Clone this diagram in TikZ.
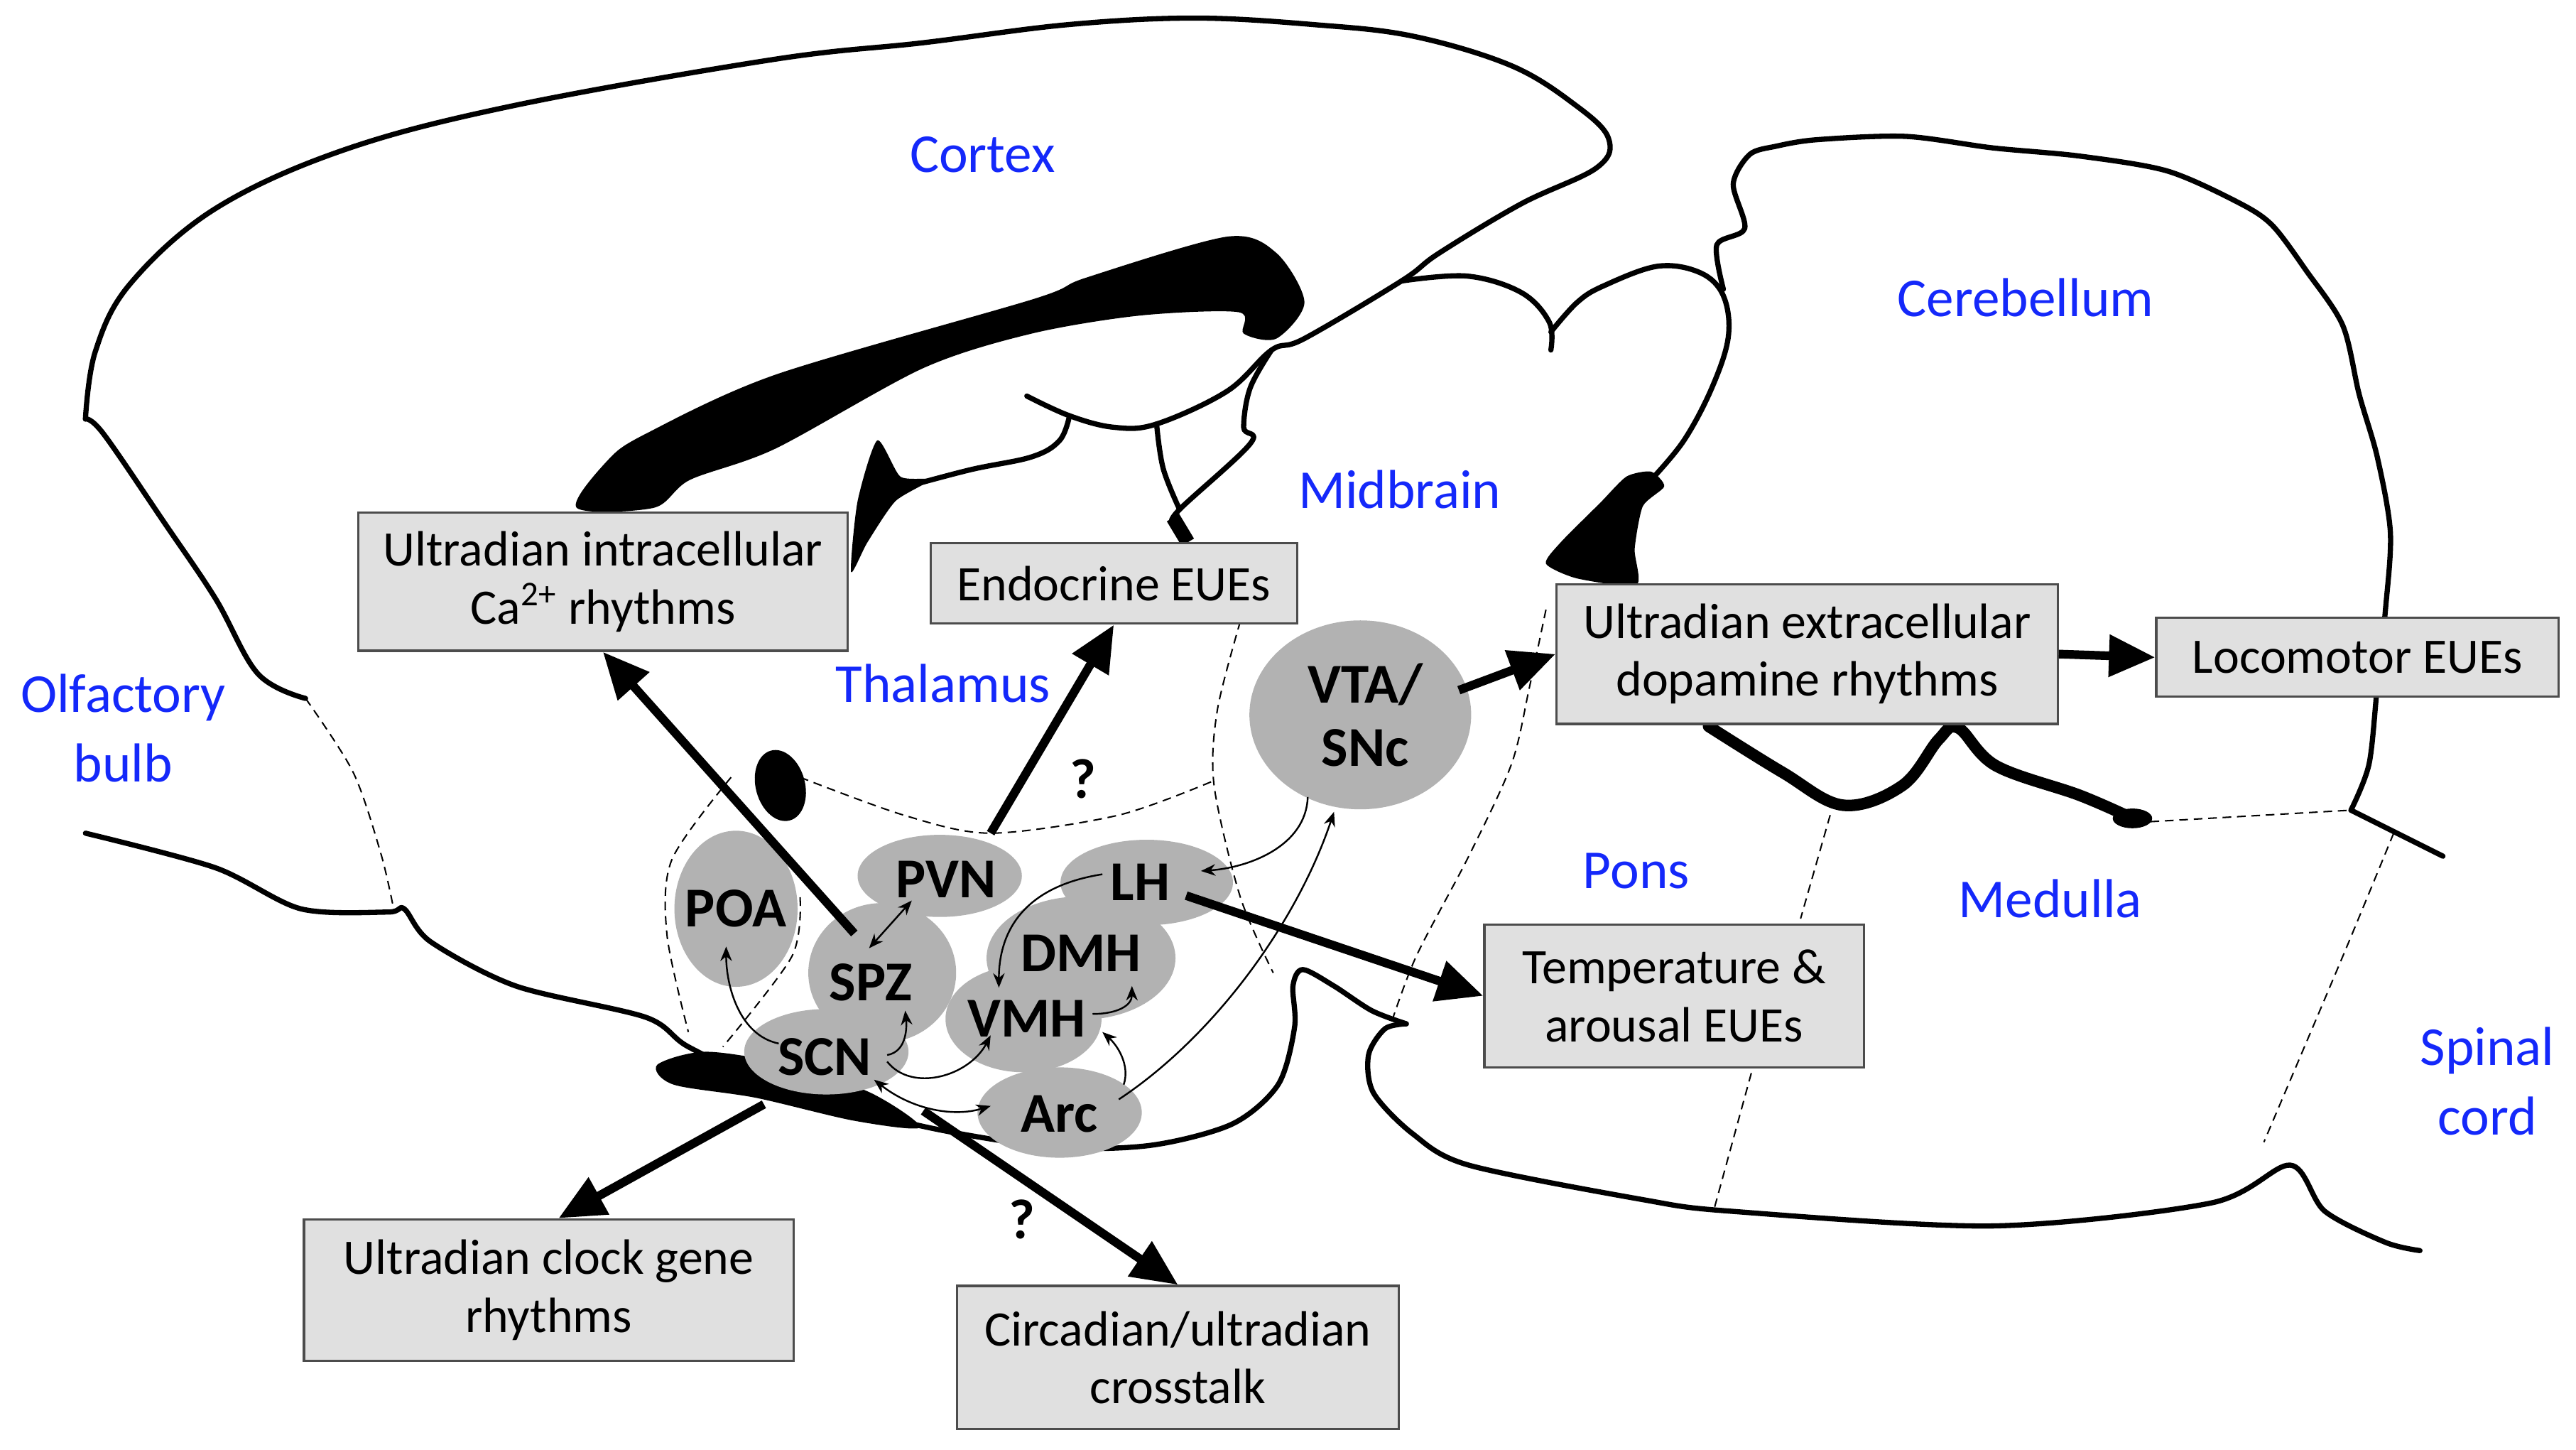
\documentclass[tikz,border=0pt]{standalone}
\usepackage{fontspec}
\setmainfont{Carlito}
\usepackage{tikz}
\usetikzlibrary{positioning,shapes,arrows.meta,calc}
\usepackage{xcolor}
\definecolor{regionblue}{RGB}{20,40,250}
\tikzstyle{outline}=[line width=1.8pt, line join=round, line cap=round]
\tikzstyle{border}=[densely dashed, line width=0.5pt, dash pattern=on 3pt off 2pt]
\tikzstyle{region}=[text=regionblue, font=\fontsize{19}{24}\selectfont, align=center]
\tikzstyle{nucleus}=[ellipse, fill=black!30, inner sep=0pt]
\tikzstyle{nuclabel}=[font=\fontsize{19.5}{22}\selectfont\bfseries]
\tikzstyle{eue}=[rectangle, draw=black!70, fill=black!12, line width=0.8pt, align=center,
inner sep=0pt, font=\fontsize{17.2}{20}\selectfont]
\tikzstyle{bigarrow}=[line width=3pt, -{Triangle[length=16pt,width=14pt]}]
\tikzstyle{smallarrow}=[line width=0.6pt, -{Stealth[length=5pt,width=4pt]}]
\tikzstyle{twoway}=[line width=0.6pt, {Stealth[length=5pt,width=4pt]}-{Stealth[length=5pt,width=4pt]}]

\begin{document}
\begin{tikzpicture}[x=0.02cm, y=-0.02cm]
        \useasboundingbox (0,0) rectangle (1568,882);
        % brain outline
        \draw[outline] plot[smooth, tension=0.6] coordinates {(52,255) (58,214) (79,173) (131,127) (210,91) (314,64)
            (472,36) (562,26) (650,15) (727,11) (800,15) (860,22) (920,40) (959,64) (979,84) (972,102) (926,124)
            (876,154) (853,171) (794,206) (774,213) (747,238) (704,258) (678,260) (651,253) (625,241)};
        \draw[outline] plot[smooth, tension=0.6] coordinates {(853,171) (893,168) (926,178) (943,196) (944,213)};
        \draw[outline] plot[smooth, tension=0.6] coordinates {(944,202) (960,184) (976,174) (1009,162) (1035,166)
            (1049,180) (1052,205) (1042,236) (1025,268) (1005,292)};
        \draw[outline] plot[smooth, tension=0.5] coordinates {(1049,176) (1045,149) (1062,139) (1055,112) (1065,94)
            (1081,89) (1106,85) (1160,83) (1213,90) (1266,95) (1319,104) (1362,123) (1383,137) (1404,165)
            (1426,198) (1436,240) (1447,278) (1455,324) (1452,371) (1447,418) (1442,465) (1431,493)};
        \draw[outline] (1431,493) -- (1487,521);
        \draw[outline] plot[smooth, tension=0.6] coordinates {(774,213) (761,236) (757,260) (761,270) (718,310) (714,318)};
        \draw[line width=5pt] (714,315) -- (723,330);
        \draw[outline] plot[smooth, tension=0.6] coordinates {(704,258) (708,285) (718,310)};
        \draw[outline] plot[smooth, tension=0.6] coordinates {(651,253) (645,268) (628,278) (590,286) (545,298)};
        \draw[outline] plot[smooth, tension=0.6] coordinates {(52,255) (63,264) (100,318) (131,364) (157,410) (186,425)};
        \draw[outline] plot[smooth, tension=0.5] coordinates {(52,507) (131,528) (183,553) (236,555) (246,553)
            (262,573) (314,600) (393,619) (419,637) (470,660) (560,685) (640,698) (700,697) (750,684) (778,660)
            (788,625) (787,600) (793,590) (812,600) (835,615) (856,623)};
        \draw[outline] plot[smooth, tension=0.5] coordinates {(856,623) (843,626) (833,642) (836,665) (860,690)
            (894,709) (1000,730) (1053,737) (1213,746) (1346,732) (1394,709) (1415,737) (1452,756) (1473,761)};
        % black structures
        \fill plot[smooth cycle, tension=0.5] coordinates {(351,309) (370,280) (393,264) (472,228) (629,182)
            (661,169) (747,144) (777,154) (794,184) (777,206) (757,203) (754,190) (694,192) (628,203) (562,224)
            (472,273) (420,292) (398,309)};
        \fill plot[smooth cycle, tension=0.4] coordinates {(534,268) (548,290) (566,292) (545,305) (528,330)
            (518,348) (522,305)};
        \fill[rotate around={15:(475,478)}] (475,478) ellipse [x radius=15, y radius=22];
        \fill plot[smooth cycle, tension=0.5] coordinates {(400,648) (430,640) (480,648) (530,665) (560,686)
            (520,682) (460,668) (410,660)};
        \fill plot[smooth cycle, tension=0.4] coordinates {(941,343) (950,330) (974,306) (990,290) (1005,287)
            (1013,296) (1000,308) (995,334) (996,356) (960,352)};
        \draw[line width=4pt, line cap=round] plot[smooth, tension=0.6] coordinates {(1040,442) (1085,470)
            (1122,490) (1158,478) (1180,450) (1192,443) (1215,466) (1266,484) (1298,498)};
        \fill (1298,498) ellipse [x radius=12, y radius=6];
        % dashed borders
        \draw[border] plot[smooth] coordinates {(186,425) (215,470) (232,520) (240,555)};
        \draw[border] plot[smooth] coordinates {(445,473) (409,523) (406,569) (419,628)};
        \draw[border] plot[smooth] coordinates {(487,546) (482,582) (440,637)};
        \draw[border] plot[smooth] coordinates {(487,473) (550,496) (603,507) (681,496) (739,475)};
        \draw[border] plot[smooth] coordinates {(755,378) (741,432) (739,478) (755,546) (775,592)};
        \draw[border] plot[smooth] coordinates {(941,371) (931,418) (920,465) (894,521) (862,582) (846,625)};
        \draw[border] plot[smooth] coordinates {(1114,496) (1096,559)};
        \draw[border] plot[smooth] coordinates {(1066,653) (1043,737)};
        \draw[border] plot[smooth] coordinates {(1457,507) (1426,582) (1378,695)};
        \draw[border] (1309,500) -- (1431,493);
        % region names
        \node (cortex)[region] at (598,94) {Cortex};
        \node (cerebellum)[region] at (1233,181) {Cerebellum};
        \node (midbrain)[region] at (852,298) {Midbrain};
        \node (olfactory)[region] at (75,443) {Olfactory\\bulb};
        \node (thalamus)[region] at (574,416) {Thalamus};
        \node (pons)[region] at (996,530) {Pons};
        \node (medulla)[region] at (1248,547) {Medulla};
        \node (spinal)[region] at (1514,658) {Spinal\\cord};
        % nuclei
        \node (poa)[nucleus, minimum width=1.5cm, minimum height=1.9cm] at (448,553) {};
        \node (pvn)[nucleus, minimum width=2.0cm, minimum height=1.0cm] at (572,533) {};
        \node (lh)[nucleus, minimum width=2.1cm, minimum height=1.04cm] at (698,537) {};
        \node (spz)[nucleus, minimum width=1.8cm, minimum height=1.7cm] at (537,592) {};
        \node (dmh)[nucleus, minimum width=2.3cm, minimum height=1.5cm] at (658,583) {};
        \node (vmh)[nucleus, minimum width=1.9cm, minimum height=1.3cm] at (623,620) {};
        \node (scn)[nucleus, minimum width=2.0cm, minimum height=1.04cm] at (503,640) {};
        \node (arc)[nucleus, minimum width=2.0cm, minimum height=1.1cm] at (645,677) {};
        \node (vta)[nucleus, minimum width=2.7cm, minimum height=2.3cm] at (828,435) {};
        \node (poa-t)[nuclabel] at (448,553) {POA};
        \node (pvn-t)[nuclabel] at (576,535) {PVN};
        \node (lh-t)[nuclabel] at (694,537) {LH};
        \node (spz-t)[nuclabel] at (530,598) {SPZ};
        \node (dmh-t)[nuclabel] at (658,580) {DMH};
        \node (vmh-t)[nuclabel] at (625,620) {VMH};
        \node (scn-t)[nuclabel] at (502,643) {SCN};
        \node (arc-t)[nuclabel] at (645,678) {Arc};
        \node (vta-t)[nuclabel, align=center] at (831,435) {VTA/\\SNc};
        \node (q1)[nuclabel] at (659,474) {?};
        \node (q2)[nuclabel] at (622,742) {?};
        % effects
        \node (ca)[eue, minimum width=5.96cm, minimum height=1.68cm] at (367,354) {Ultradian intracellular\\Ca\textsuperscript{2+} rhythms};
        \node (endo)[eue, minimum width=4.46cm, minimum height=0.98cm] at (678,355) {Endocrine EUEs};
        \node (dopa)[eue, minimum width=6.1cm, minimum height=1.7cm] at (1100,398) {Ultradian extracellular\\dopamine rhythms};
        \node (loco)[eue, minimum width=4.9cm, minimum height=0.96cm] at (1435,400) {Locomotor EUEs};
        \node (temp)[eue, minimum width=4.62cm, minimum height=1.74cm] at (1019,606) {Temperature \&\\arousal EUEs};
        \node (clock)[eue, minimum width=5.96cm, minimum height=1.72cm] at (334,785) {Ultradian clock gene\\rhythms};
        \node (cross)[eue, minimum width=5.38cm, minimum height=1.74cm] at (717,826) {Circadian/ultradian\\crosstalk};

        \draw[bigarrow] ($(spz)+(-17,-24)$) -- (ca.south);
        \draw[bigarrow] ($(pvn)+(31,-26)$) -- (endo.south);
        \draw[bigarrow] ($(vta)+(60,-15)$) -- (dopa.west);
        \draw[bigarrow] (dopa.east) -- (loco.west);
        \draw[bigarrow] ($(lh)+(24,8)$) -- (temp.west);
        \draw[bigarrow] ($(scn)+(-38,32)$) -- ($(clock.north)+(6,0)$);
        \draw[bigarrow] ($(scn)+(59,36)$) -- (cross.north);

        \draw[smallarrow] ($(scn)+(-29,-5)$) .. controls (450,630) and (442,600) .. ($(poa)+(-6,23)$);
        \draw[smallarrow] ($(scn)+(37,2)$) .. controls (552,640) and (552,625) .. ($(spz)+(14,23)$);
        \draw[twoway] ($(spz)+(-8,-15)$) -- ($(pvn)+(-17,15)$);
        \draw[smallarrow] ($(scn)+(37,6)$) .. controls (555,665) and (590,655) .. ($(vmh)+(-20,10)$);
        \draw[twoway] ($(scn)+(29,17)$) .. controls (555,675) and (580,680) .. ($(arc)+(-42,-4)$);
        \draw[smallarrow] ($(arc)+(39,-17)$) .. controls (688,648) and (680,636) .. ($(vmh)+(48,8)$);
        \draw[smallarrow] ($(vmh)+(42,-3)$) .. controls (680,617) and (689,612) .. ($(dmh)+(31,17)$);
        \draw[smallarrow] ($(lh)+(-27,-5)$) .. controls (620,540) and (608,570) .. ($(vmh)+(-15,-19)$);
        \draw[smallarrow] ($(vta)+(-32,50)$) .. controls (795,515) and (760,528) .. ($(lh)+(33,-7)$);
        \draw[smallarrow] ($(arc)+(36,-8)$) .. controls (740,630) and (790,560) .. ($(vta)+(-16,59)$);
\end{tikzpicture}
\end{document}
